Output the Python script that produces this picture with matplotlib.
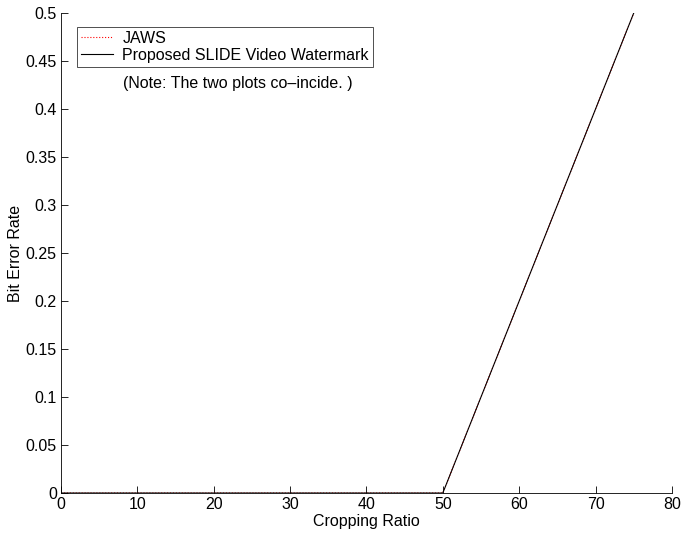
import matplotlib
matplotlib.use('Agg')
import matplotlib.pyplot as plt

plt.rcParams['font.family'] = ['Liberation Sans', 'DejaVu Sans']

# cropping ratio (%) vs bit error rate for both schemes
crop_ratio = [0, 10, 20, 30, 40, 50, 55, 60, 65, 70, 75]
ber_jaws = [0, 0, 0, 0, 0, 0, 0.1, 0.2, 0.3, 0.4, 0.5]
ber_slide = [0, 0, 0, 0, 0, 0, 0.1, 0.2, 0.3, 0.4, 0.5]

xticks = [0, 10, 20, 30, 40, 50, 60, 70, 80]
yticks = [0, 0.05, 0.1, 0.15, 0.2, 0.25, 0.3, 0.35, 0.4, 0.45, 0.5]
ytick_labels = ['0', '0.05', '0.1', '0.15', '0.2', '0.25', '0.3', '0.35', '0.4', '0.45', '0.5']

fig = plt.figure(figsize=(6.81, 5.38), dpi=100)
ax = fig.add_axes([0.0896, 0.0836, 0.897, 0.892])

ax.plot(crop_ratio, ber_jaws, color='red', linestyle=':', linewidth=0.8, label='JAWS')
ax.plot(crop_ratio, ber_slide, color='black', linestyle='-', linewidth=0.8,
        label='Proposed SLIDE Video Watermark')

ax.set_xlim(0, 80)
ax.set_ylim(0, 0.5)
ax.set_xticks(xticks)
ax.set_yticks(yticks)
ax.set_yticklabels(ytick_labels)
ax.tick_params(direction='in', length=5, width=0.6, labelsize=11.5, pad=3)
for side in ['top', 'right']:
    ax.spines[side].set_visible(False)
for side in ['left', 'bottom']:
    ax.spines[side].set_linewidth(0.6)

ax.set_xlabel('Cropping Ratio', fontsize=11.5, labelpad=1)
ax.set_ylabel('Bit Error Rate', fontsize=11.5, labelpad=2)

leg = ax.legend(loc='upper left', bbox_to_anchor=(0.026, 0.971), fontsize=11.5,
                frameon=True, fancybox=False, edgecolor='black', borderpad=0.25,
                labelspacing=0.1, handlelength=2.0, handletextpad=0.6, borderaxespad=0)
leg.get_frame().set_linewidth(0.6)

ax.text(0.101, 0.854, '(Note: The two plots co\u2013incide. )', transform=ax.transAxes,
        fontsize=11.5, va='center', ha='left')

fig.savefig('out.png', dpi=100)
